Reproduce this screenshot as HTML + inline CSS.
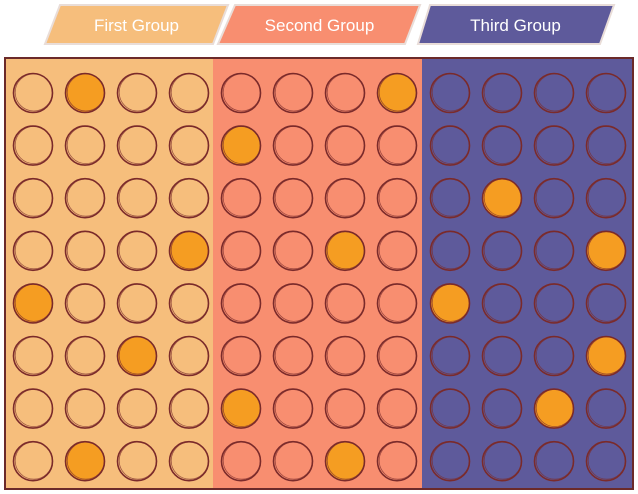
<!DOCTYPE html>
<html><head><meta charset="utf-8"><style>
html,body{margin:0;padding:0;background:#fff;width:638px;height:494px;overflow:hidden}
svg{display:block}
text{font-family:"Liberation Sans",sans-serif}
</style></head><body>
<svg id="chart" width="638" height="494" viewBox="0 0 638 494" xmlns="http://www.w3.org/2000/svg">
<g id="legend"></g>
<g id="panels"></g>
<g id="dots"></g>
</svg>
<script>
const groups = ["First Group", "Second Group", "Third Group"];
const groupColors = ["#F6BE7C", "#F88E70", "#5E5A9B"];
// highlighted cells per group: [row, col]
const firstHighlights = [[0,1],[3,3],[4,0],[5,2],[7,1]];
const secondHighlights = [[0,3],[1,0],[3,2],[6,0],[7,2]];
const thirdHighlights = [[2,1],[3,3],[4,0],[5,3],[6,2]];
const highlights = [firstHighlights, secondHighlights, thirdHighlights];
const rowCount = 8, colCount = 4;

const NS = "http://www.w3.org/2000/svg";
const panelX = [5, 213, 422, 633];
const panelTop = 58, panelBottom = 489;
function cx(g, c){ return panelX[g] + 28 + c * 52; }
function cy(r){ return 93 + r * 52.6; }
function mk(tag, attrs, parent){ const e=document.createElementNS(NS,tag); for(const k in attrs) e.setAttribute(k,attrs[k]); parent.appendChild(e); return e; }

const legend = document.getElementById('legend');
const panels = document.getElementById('panels');
const dots = document.getElementById('dots');
const legX = [[60,228,45,213],[235,420,218,405],[430,614,418,600]];
groups.forEach((name, g) => {
  const [tl,tr,bl,br] = legX[g];
  const p = mk('polygon',{points:`${tl},5 ${tr},5 ${br},44 ${bl},44`,fill:groupColors[g],stroke:"#e9ddd8","stroke-width":2},legend);
  
  
  const t = mk('text',{x:(tl+tr+bl+br)/4,y:31,'text-anchor':'middle','font-size':17,fill:'#fff'},legend);
  t.textContent = name;
  
  

  const r = mk('rect',{x:panelX[g],y:panelTop,width:panelX[g+1]-panelX[g],height:panelBottom-panelTop,fill:groupColors[g]},panels);
  
  

  for(let row=0; row<rowCount; row++){
    for(let c=0; c<colCount; c++){
      const hot = highlights[g].some(h => h[0]===row && h[1]===c);
      const circ = mk('circle',{cx:cx(g,c),cy:cy(row),r:19.5,fill:hot?'#F59D22':'none',stroke:'#7B2B2B','stroke-width':1.6},dots);
      
      
      mk('circle',{cx:cx(g,c)+0.8,cy:cy(row)-0.6,r:18.6,fill:'none',stroke:'#7B2B2B','stroke-width':0.8,opacity:0.7},dots);
    }
  }
});
const border = mk('rect',{x:5,y:panelTop,width:628,height:panelBottom-panelTop,fill:'none',stroke:'#6b2a2a','stroke-width':2},panels);


</script>
</body></html>
